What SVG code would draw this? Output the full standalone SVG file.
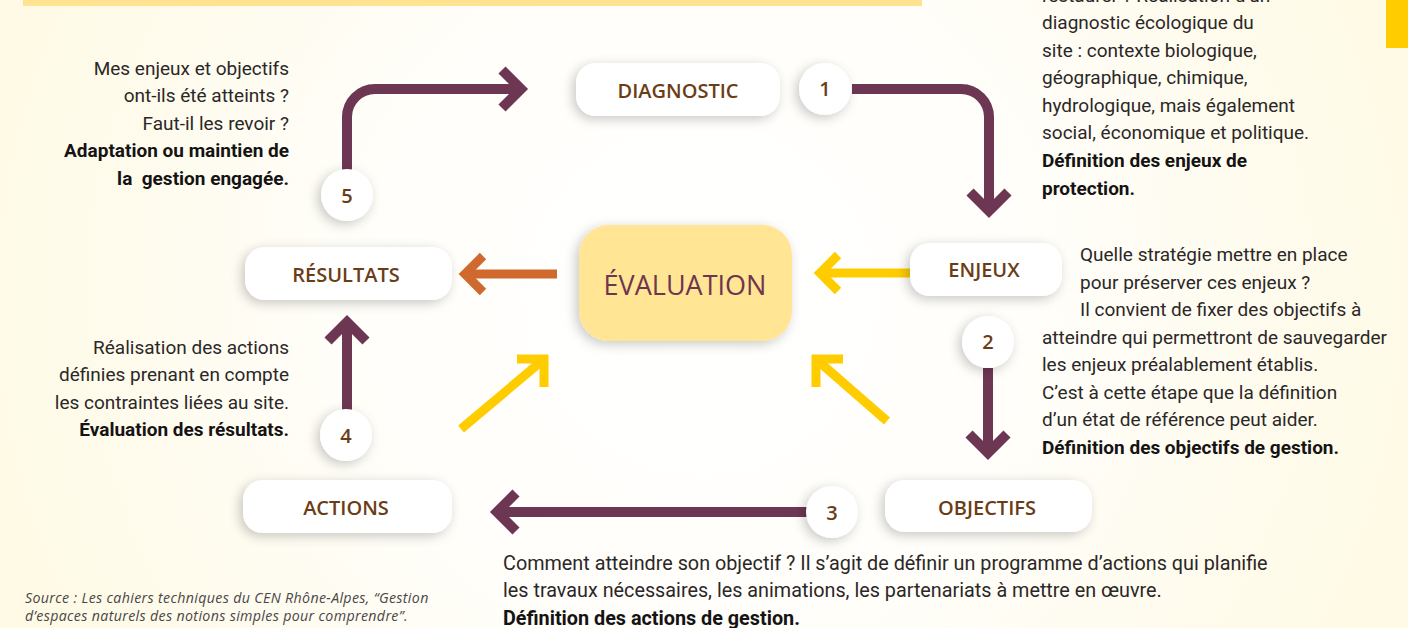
<svg xmlns="http://www.w3.org/2000/svg" width="1408" height="628" viewBox="0 0 1408 628">
<defs>
<radialGradient id="bg" cx="700" cy="300" r="720" gradientUnits="userSpaceOnUse">
<stop offset="0" stop-color="#ffffff"/>
<stop offset="0.45" stop-color="#fffefa"/>
<stop offset="1" stop-color="#fefae6"/>
</radialGradient>
<filter id="sh" x="-30%" y="-50%" width="160%" height="200%">
<feDropShadow dx="-3" dy="3" stdDeviation="6" flood-color="#000" flood-opacity="0.22"/>
</filter>
<style>
.node{fill:#ffffff;filter:url(#sh)}
.lbl{font-family:"Open Sans","Noto Sans",sans-serif;font-size:20px;font-weight:600;fill:#6b3d16;text-anchor:middle}
.num{font-family:"Open Sans","Noto Sans",sans-serif;font-size:20px;font-weight:600;fill:#6b3d16;text-anchor:middle}
.body{font-family:Roboto,"Noto Sans",sans-serif;font-size:19px;fill:#2b2727}
.big{font-size:19.8px}
.b{font-weight:bold;fill:#151313}
.r{text-anchor:end}
.src{font-family:"Open Sans","Noto Sans",sans-serif;font-style:italic;font-size:14.2px;letter-spacing:0.35px;fill:#4a4646}
.pu{fill:none;stroke:#6d3753;stroke-width:10;stroke-linejoin:miter}
.ye{fill:none;stroke:#ffcc00;stroke-width:9;stroke-linejoin:miter}
.or{fill:none;stroke:#cf692e;stroke-width:9;stroke-linejoin:miter}
</style>
</defs>
<rect width="1408" height="628" fill="url(#bg)"/>
<rect x="23" y="0" width="899" height="6" fill="#ffe391"/>
<rect x="1386" y="0" width="22" height="48" fill="#ffcc00"/>

<g id="connectors">
<path class="pu" d="M 852 89 H 961 A 28 28 0 0 1 989 117 V 210"/>
<path class="pu" d="M 970 192 L 989 211 L 1008 192"/>
<path class="pu" d="M 988 368 V 452"/>
<path class="pu" d="M 969 434 L 988 453 L 1007 434"/>
<path class="pu" d="M 808 512 H 498"/>
<path class="pu" d="M 516 493 L 497 512 L 516 531"/>
<path class="pu" d="M 347 410 V 323"/>
<path class="pu" d="M 328 341 L 347 322 L 366 341"/>
<path class="pu" d="M 347 172 V 117 A 28 28 0 0 1 375 89 H 520"/>
<path class="pu" d="M 502 70 L 521 89 L 502 108"/>
<path class="or" d="M 557 274 H 465"/>
<path class="or" d="M 483 256 L 465 274 L 483 292"/>
<path class="ye" d="M 910 273 H 820"/>
<path class="ye" d="M 838 255 L 820 273 L 838 291"/>
<path class="ye" d="M 461 429 L 543 360"/>
<path class="ye" d="M 517 359 L 544 359 L 544 387"/>
<path class="ye" d="M 887 421 L 817 360"/>
<path class="ye" d="M 843 359 L 816 359 L 816 387"/>
</g>

<g id="diagnostic"><rect class="node" x="576" y="63" width="204" height="53" rx="20"/><text class="lbl" x="678" y="98">DIAGNOSTIC</text></g>
<g id="step1"><circle class="node" cx="825" cy="89" r="26"/><text class="num" x="825" y="96">1</text></g>
<g id="enjeux"><rect class="node" x="910" y="243" width="152" height="53" rx="20"/><text class="lbl" x="984" y="277">ENJEUX</text></g>
<g id="step2"><circle class="node" cx="988" cy="342" r="26"/><text class="num" x="988" y="349">2</text></g>
<g id="objectifs"><rect class="node" x="885" y="480" width="207" height="52" rx="20"/><text class="lbl" x="987" y="515">OBJECTIFS</text></g>
<g id="step3"><circle class="node" cx="832" cy="512" r="26"/><text class="num" x="832" y="520">3</text></g>
<g id="actions"><rect class="node" x="243" y="480" width="209" height="53" rx="20"/><text class="lbl" x="346" y="515">ACTIONS</text></g>
<g id="step4"><circle class="node" cx="346" cy="435" r="26"/><text class="num" x="346" y="443">4</text></g>
<g id="resultats"><rect class="node" x="245" y="247" width="207" height="53" rx="20"/><text class="lbl" x="346" y="282">RÉSULTATS</text></g>
<g id="step5"><circle class="node" cx="347" cy="195" r="26"/><text class="num" x="347" y="203">5</text></g>
<g id="evaluation"><rect class="node" x="579" y="225" width="213" height="116" rx="30" style="fill:#ffe594"/><text x="685" y="295" style="font-family:'Open Sans','Noto Sans',sans-serif;font-size:27px;fill:#6e3550;text-anchor:middle">ÉVALUATION</text></g>

<g id="text-diagnostic" class="body">
<text x="1042" y="2">restaurer ? Réalisation d’un</text>
<text x="1042" y="29">diagnostic écologique du</text>
<text x="1042" y="57">site : contexte biologique,</text>
<text x="1042" y="84">géographique, chimique,</text>
<text x="1042" y="112">hydrologique, mais également</text>
<text x="1042" y="139">social, économique et politique.</text>
<text x="1042" y="167" class="b">Définition des enjeux de</text>
<text x="1042" y="195" class="b">protection.</text>
</g>
<g id="text-enjeux" class="body">
<text x="1080" y="261">Quelle stratégie mettre en place</text>
<text x="1080" y="289">pour préserver ces enjeux ?</text>
<text x="1080" y="316">Il convient de fixer des objectifs à</text>
<text x="1042" y="344">atteindre qui permettront de sauvegarder</text>
<text x="1042" y="371">les enjeux préalablement établis.</text>
<text x="1042" y="399">C’est à cette étape que la définition</text>
<text x="1042" y="426">d’un état de référence peut aider.</text>
<text x="1042" y="454" class="b">Définition des objectifs de gestion.</text>
</g>
<g id="text-objectifs" class="body big">
<text x="503" y="570">Comment atteindre son objectif ? Il s’agit de définir un programme d’actions qui planifie</text>
<text x="503" y="597">les travaux nécessaires, les animations, les partenariats à mettre en œuvre.</text>
<text x="503" y="625" class="b">Définition des actions de gestion.</text>
</g>
<g id="text-resultats" class="body">
<text x="289" y="354" class="r">Réalisation des actions</text>
<text x="289" y="381" class="r">définies prenant en compte</text>
<text x="289" y="409" class="r">les contraintes liées au site.</text>
<text x="289" y="436" class="r b">Évaluation des résultats.</text>
</g>
<g id="text-bilan" class="body">
<text x="289" y="75" class="r">Mes enjeux et objectifs</text>
<text x="289" y="102" class="r">ont-ils été atteints ?</text>
<text x="289" y="130" class="r">Faut-il les revoir ?</text>
<text x="289" y="157" class="r b">Adaptation ou maintien de</text>
<text x="289" y="185" class="r b" xml:space="preserve">la  gestion engagée.</text>
</g>
<g id="source" class="src">
<text x="25" y="603">Source : Les cahiers techniques du CEN Rhône-Alpes, “Gestion</text>
<text x="25" y="621">d’espaces naturels des notions simples pour comprendre”.</text>
</g>
</svg>
